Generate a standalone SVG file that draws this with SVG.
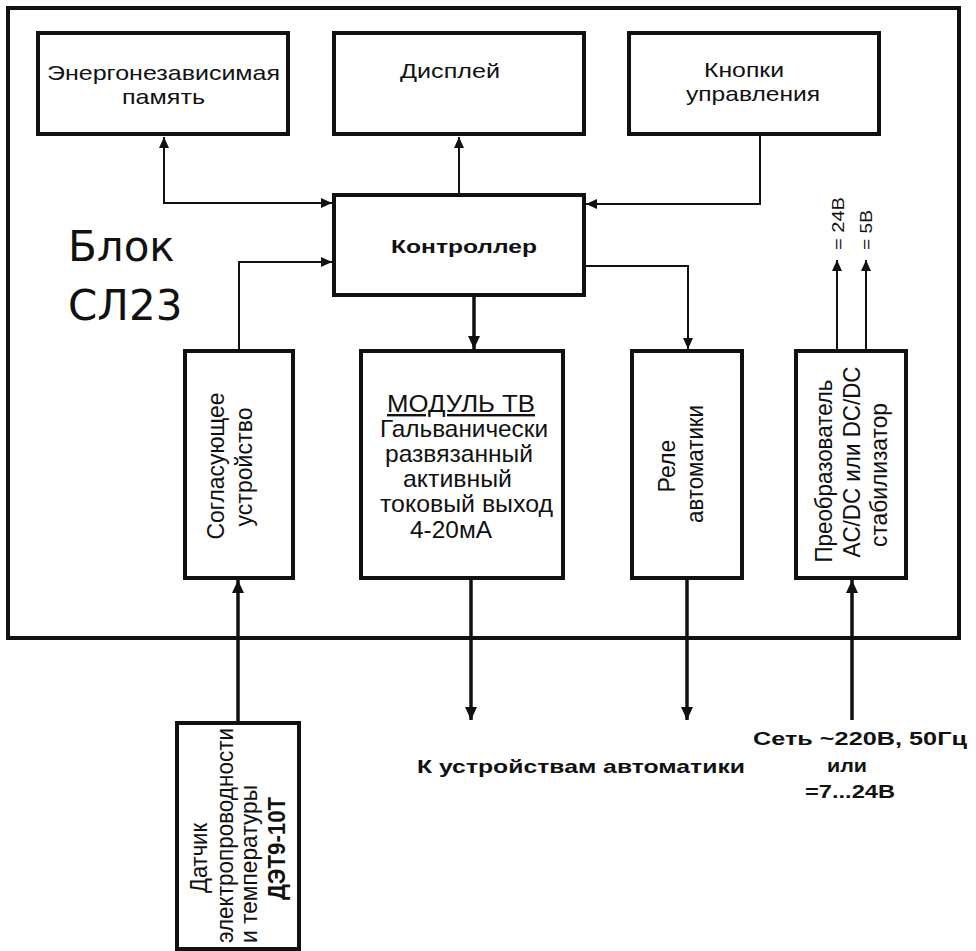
<svg xmlns="http://www.w3.org/2000/svg" width="976" height="951" viewBox="0 0 976 951">
<style>
.box{fill:#fff;stroke:#111;stroke-width:4}
.frame{fill:#fff;stroke:#111;stroke-width:4}
.c{fill:none;stroke:#111;stroke-width:2}
.ct{fill:none;stroke:#111;stroke-width:3.5}
text{font-family:"Liberation Sans",Arial,sans-serif;fill:#111}
.t21{font-size:21px}
.t24{font-size:24px}
.b{font-weight:bold;font-size:19px}
.big{font-family:"DejaVu Sans",Verdana,sans-serif;font-size:42px}
.sm{font-size:17px}
</style>
<defs>
<marker id="a" markerUnits="userSpaceOnUse" markerWidth="11" markerHeight="10" refX="11" refY="5" orient="auto-start-reverse" viewBox="0 0 11 10"><path d="M0,0 L11,5 L0,10 z" fill="#111"/></marker>
<marker id="at" markerUnits="userSpaceOnUse" markerWidth="13" markerHeight="12" refX="13" refY="6" orient="auto-start-reverse" viewBox="0 0 13 12"><path d="M0,0 L13,6 L0,12 z" fill="#111"/></marker>
</defs>
<rect id="frame" class="frame" x="8" y="8" width="951" height="630"/>
<g id="title"><text class="big" x="68" y="261">Блок</text><text class="big" x="68" y="320">СЛ23</text></g>

<g id="connectors">
<path class="c" d="M164,137 V203 H332" marker-start="url(#a)" marker-end="url(#a)"/>
<path class="c" d="M459,193 V137" marker-end="url(#a)"/>
<path class="c" d="M760,135 V204 H586" marker-end="url(#a)"/>
<path class="c" d="M239,349 V262 H332" marker-end="url(#a)"/>
<path class="c" d="M586,266 H688 V349" marker-end="url(#a)"/>
<path class="ct" d="M474,297 V349" marker-end="url(#at)"/>
<path class="c" d="M837,349 V260" marker-end="url(#a)"/>
<path class="c" d="M866,349 V260" marker-end="url(#a)"/>
<path class="ct" d="M238,722 V580" marker-end="url(#at)"/>
<path class="ct" d="M471,580 V720" marker-end="url(#at)"/>
<path class="ct" d="M687,580 V720" marker-end="url(#at)"/>
<path class="ct" d="M852,720 V580" marker-end="url(#at)"/>
</g>

<g id="memory"><rect class="box" x="38" y="33" width="250" height="101"/>
<text class="t21" x="47" y="80" textLength="233" lengthAdjust="spacingAndGlyphs">Энергонезависимая</text>
<text class="t21" x="122" y="104" textLength="83" lengthAdjust="spacingAndGlyphs">память</text></g>

<g id="display"><rect class="box" x="334" y="33" width="250" height="101"/>
<text class="t21" x="400" y="78" textLength="100" lengthAdjust="spacingAndGlyphs">Дисплей</text></g>

<g id="buttons"><rect class="box" x="629" y="33" width="250" height="101"/>
<text class="t21" x="704" y="77" textLength="80" lengthAdjust="spacingAndGlyphs">Кнопки</text>
<text class="t21" x="686" y="101" textLength="134" lengthAdjust="spacingAndGlyphs">управления</text></g>

<g id="controller"><rect class="box" x="334" y="195" width="250" height="100"/>
<text class="b" x="391" y="253" textLength="146" lengthAdjust="spacingAndGlyphs" style="font-size:18px">Контроллер</text></g>

<g id="matching"><rect class="box" x="185" y="351" width="108" height="227"/>
<text class="t24" text-anchor="middle" transform="translate(224,466) rotate(-90)" textLength="147" lengthAdjust="spacingAndGlyphs">Согласующее</text>
<text class="t24" text-anchor="middle" transform="translate(252,467) rotate(-90)" textLength="119" lengthAdjust="spacingAndGlyphs">устройство</text></g>

<g id="module"><rect class="box" x="361" y="351" width="202" height="227"/>
<text class="t24" x="387" y="412" textLength="148" lengthAdjust="spacingAndGlyphs" text-decoration="underline">МОДУЛЬ  ТВ</text>
<text class="t24" x="380" y="437" textLength="168" lengthAdjust="spacingAndGlyphs">Гальванически</text>
<text class="t24" x="385" y="462" textLength="148" lengthAdjust="spacingAndGlyphs">развязанный</text>
<text class="t24" x="403" y="487" textLength="109" lengthAdjust="spacingAndGlyphs">активный</text>
<text class="t24" x="380" y="512" textLength="173" lengthAdjust="spacingAndGlyphs">токовый выход</text>
<text class="t24" x="410" y="538" textLength="82" lengthAdjust="spacingAndGlyphs">4-20мА</text></g>

<g id="relay"><rect class="box" x="632" y="351" width="110" height="227"/>
<text class="t24" text-anchor="middle" transform="translate(675,466) rotate(-90)" textLength="53" lengthAdjust="spacingAndGlyphs">Реле</text>
<text class="t24" text-anchor="middle" transform="translate(703,464) rotate(-90)" textLength="118" lengthAdjust="spacingAndGlyphs">автоматики</text></g>

<g id="converter"><rect class="box" x="796" y="351" width="110" height="227"/>
<text class="t24" text-anchor="middle" transform="translate(832,471) rotate(-90)" textLength="183" lengthAdjust="spacingAndGlyphs">Преобразователь</text>
<text class="t24" text-anchor="middle" transform="translate(860,462) rotate(-90)" textLength="191" lengthAdjust="spacingAndGlyphs">AC/DC или DC/DC</text>
<text class="t24" text-anchor="middle" transform="translate(887,475) rotate(-90)" textLength="144" lengthAdjust="spacingAndGlyphs">стабилизатор</text></g>

<g id="out24"><text class="sm" transform="translate(844,250) rotate(-90)" textLength="53" lengthAdjust="spacingAndGlyphs">= 24В</text></g>
<g id="out5"><text class="sm" transform="translate(872,250) rotate(-90)" textLength="40" lengthAdjust="spacingAndGlyphs">= 5В</text></g>

<g id="sensor"><rect class="box" x="177" y="723" width="122" height="226"/>
<text class="t24" transform="translate(207,893) rotate(-90)" textLength="70" lengthAdjust="spacingAndGlyphs">Датчик</text>
<text class="t24" transform="translate(233,943) rotate(-90)" textLength="215" lengthAdjust="spacingAndGlyphs">электропроводности</text>
<text class="t24" transform="translate(257,943) rotate(-90)" textLength="158" lengthAdjust="spacingAndGlyphs">и температуры</text>
<text class="t24" transform="translate(285,900) rotate(-90)" textLength="103" lengthAdjust="spacingAndGlyphs" font-weight="bold">ДЭТ9-10Т</text></g>

<g id="automation-label"><text class="b" x="417" y="773" textLength="328" lengthAdjust="spacingAndGlyphs">К устройствам автоматики</text></g>
<g id="mains-label">
<text class="b" x="753" y="745" textLength="214" lengthAdjust="spacingAndGlyphs">Сеть  ~220В, 50Гц</text>
<text class="b" x="827" y="772" textLength="40" lengthAdjust="spacingAndGlyphs">или</text>
<text class="b" x="805" y="798" textLength="90" lengthAdjust="spacingAndGlyphs">=7...24В</text></g>
</svg>
